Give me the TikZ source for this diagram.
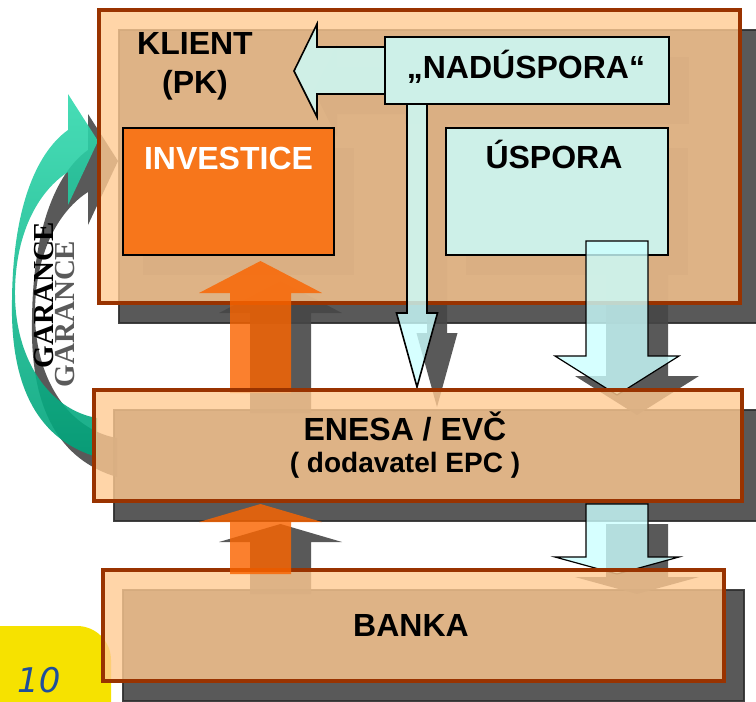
\documentclass[tikz,border=0pt]{standalone}
\usepackage{fontspec}
\setmainfont{Liberation Sans}
\newfontfamily\garfont{Liberation Serif}
\newfontfamily\numfont{DejaVu Sans}
\usetikzlibrary{calc}

\definecolor{boxline}{HTML}{993300}
\definecolor{boxpeach}{HTML}{FFCA92}
\definecolor{shadegray}{HTML}{474747}
\definecolor{shadeline}{HTML}{2E2E2E}
\definecolor{flowcyan}{HTML}{CCFFFF}
\definecolor{labelcyan}{HTML}{CDF0E8}
\definecolor{flowora}{HTML}{FA6400}
\definecolor{investora}{HTML}{F7761B}
\definecolor{garlight}{HTML}{33D9AE}
\definecolor{gardark}{HTML}{00A37A}
\definecolor{pageyellow}{HTML}{F6E200}
\definecolor{pageblue}{HTML}{1E4E9C}

\tikzset{
	dropshade/.style={shift={(20,20)}, fill=shadegray, fill opacity=0.9, draw=none},
	boxshade/.style={dropshade, draw=shadeline, draw opacity=0.9, line width=1.2pt},
	partbox/.style={fill=boxpeach, fill opacity=0.8, draw=boxline, line width=3.6pt},
	labelbox/.style={fill=labelcyan, draw=black, line width=2.7pt},
	cyanarrow/.style={fill=flowcyan, fill opacity=0.8, draw=black, line width=1.6pt},
	orangearrow/.style={fill=flowora, fill opacity=0.82, draw=none},
	bigtext/.style={font=\bfseries\fontsize{32}{36}\selectfont, anchor=base, inner sep=0pt},
	midtext/.style={font=\bfseries\fontsize{28}{32}\selectfont, anchor=base, inner sep=0pt},
	gartext/.style={font=\garfont\bfseries\fontsize{29}{32}\selectfont, anchor=base, inner sep=0pt, rotate=90}
}

% vertical block arrow: left x, right x, start y, head base y, tip y, head half width
\def\vblock[#1](#2:#3:#4:#5:#6:#7){\path[#1] (#2,#4) -- (#2,#5) -- ({(#2+#3)/2-#7},#5) -- ({(#2+#3)/2},#6) -- ({(#2+#3)/2+#7},#5) -- (#3,#5) -- (#3,#4) -- cycle;}
\def\garband{(97,457) .. controls (40,440) and (10,390) .. (12,300) .. controls (13,200) and (40,150) .. (68,130) -- (68,94) -- (98,141) -- (68,205) -- (68,172) .. controls (40,190) and (16,230) .. (15,290) .. controls (14,360) and (50,410) .. (97,418) -- cycle}

\begin{document}
\begin{tikzpicture}[x=1pt, y=-1pt]
			%%%%% START %%%%%
			\useasboundingbox (0,0) rectangle (756,702);
			\clip (0,0) rectangle (756,702);
			
			\fill[pageyellow, rounded corners=34] (-40,626) rectangle (111,760);
			\node[font=\numfont\itshape\fontsize{34}{40}\selectfont, text=pageblue, anchor=base west, inner sep=0pt] (pagenum) at (17,692) {10};
			
			% shadows
			\draw[boxshade] (99,10) rectangle (740,303);
			\draw[boxshade] (94,390) rectangle (742,501);
			\draw[boxshade] (103,570) rectangle (724,681);
			\path[dropshade] (123,128) rectangle (334,255);
			\path[dropshade] (446,128) rectangle (668,255);
			\path[dropshade] (385,37) rectangle (669,104);
			\path[dropshade] (385,47) -- (317,47) -- (317,24) -- (294,71) -- (317,117) -- (317,94) -- (385,94) -- cycle;
			\vblock[dropshade](407:427:104:313:387:20.5)
			\vblock[dropshade](586:648:241:356:395:62)
			\vblock[dropshade](586:648:504:557:574:62)
			\vblock[dropshade](230:291:393:293:261:61.5)
			\vblock[dropshade](230:291:574:522:504:61.5)
			\path[dropshade] \garband;
			
			\shade[top color=garlight, bottom color=gardark, opacity=0.9] \garband;
			\node[gartext, text=shadegray!90] (garshadow) at (74,314) {GARANCE};
			\node[gartext] (garlabel) at (53,295) {GARANCE};
			
			\draw[partbox] (99,10) rectangle (740,303);
			\draw[labelbox, fill=investora] (123,128) rectangle (334,255);
			\draw[labelbox] (446,128) rectangle (668,255);
			
			\path[cyanarrow] (385,47) -- (317,47) -- (317,24) -- (294,71) -- (317,117) -- (317,94) -- (385,94) -- cycle;
			\vblock[cyanarrow](407:427:104:313:387:20.5)
			\draw[labelbox] (385,37) rectangle (669,104);
			\vblock[cyanarrow, line width=1.2pt](586:648:241:356:395:62)
			\vblock[orangearrow](230:291:393:293:261:61.5)
			
			\draw[partbox] (94,390) rectangle (742,501);
			\vblock[cyanarrow, line width=1.2pt](586:648:504:557:574:62)
			\draw[partbox] (103,570) rectangle (724,681);
			\vblock[orangearrow](230:291:574:522:504:61.5)
			
			\node[bigtext] (klienttxt) at (195,54) {KLIENT};
			\node[bigtext] (pktxt) at (195,93) {(PK)};
			\node[bigtext, text=white] (investtxt) at (228.5,169) {INVESTICE};
			\node[bigtext] (nadtxt) at (526,78) {„NADÚSPORA“};
			\node[bigtext] (usptxt) at (554,168) {ÚSPORA};
			\node[bigtext] (enesatxt) at (405,440) {ENESA / EVČ};
			\node[midtext] (epctxt) at (405,472) {( dodavatel EPC )};
			\node[bigtext] (bankatxt) at (411,636) {BANKA};
			%%%%% END %%%%%
\end{tikzpicture}
\end{document}
